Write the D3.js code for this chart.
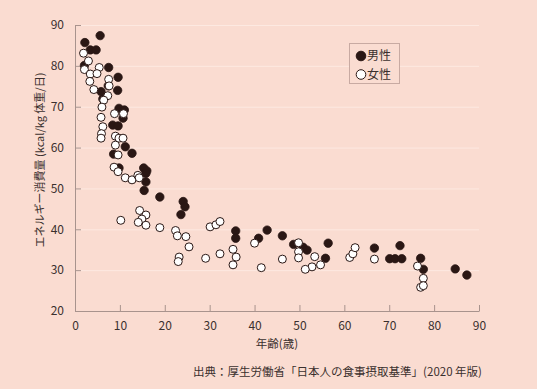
<!DOCTYPE html>
<html><head><meta charset="utf-8">
<script src="https://cdn.jsdelivr.net/npm/d3@7"></script>
<style>
html,body{margin:0;padding:0;background:#fadcd1;}
svg{display:block;}
text{font-family:"Noto Sans CJK JP","Noto Sans",sans-serif;fill:#3a302e;}
</style></head><body>
<svg id="c" width="537" height="389"></svg>
<script>
// [age, kcal/kg/day]
const males = [
[5.6,87.4],[2.2,85.7],[3.4,83.9],[4.7,83.9],[2.1,80.1],[7.5,79.6],[9.6,77.2],[7.4,75.1],
[9.5,74.0],[5.8,73.7],[6.2,71.9],[9.8,69.6],[11.0,69.2],[10.7,67.2],[8.4,65.5],[9.6,65.3],
[11.2,60.2],[8.6,58.4],[12.7,58.6],[15.3,55.0],[16.0,54.3],[15.8,53.7],[15.8,51.6],[15.4,49.5],
[9.8,55.0],[18.9,47.9],[24.1,46.8],[24.5,45.5],[23.6,43.6],[35.8,39.6],[35.8,37.8],[40.9,37.8],
[42.8,39.8],[46.2,38.4],[48.7,36.3],[50.8,35.6],[51.7,34.9],[56.4,36.6],[55.8,32.9],[66.7,35.4],
[72.4,36.0],[70.1,32.8],[71.3,32.8],[72.8,32.8],[77.0,32.9],[77.6,30.2],[84.7,30.3],[87.3,28.8]
];
const females = [
[1.9,83.1],[3.0,81.2],[2.1,79.1],[3.4,78.0],[5.4,79.6],[4.9,78.1],[3.3,76.2],[7.5,76.7],
[4.2,74.2],[7.6,75.1],[7.3,72.7],[6.4,71.6],[6.0,69.9],[5.8,67.4],[6.2,65.1],[5.9,63.4],
[5.8,62.3],[8.8,68.3],[10.8,68.3],[9.0,62.8],[9.8,62.3],[10.7,62.3],[9.0,60.6],[9.6,58.2],
[8.7,55.2],[9.6,54.1],[11.2,52.6],[12.7,52.1],[14.0,53.2],[14.3,52.6],[14.4,44.6],[15.8,43.5],
[14.9,42.5],[14.1,41.7],[15.8,41.0],[10.2,42.2],[18.9,40.4],[22.4,39.7],[22.8,38.4],[24.7,38.2],
[25.4,35.7],[23.2,33.2],[23.0,32.1],[29.1,32.9],[30.1,40.6],[31.4,41.1],[32.3,41.9],[32.3,34.0],
[35.2,35.1],[35.9,33.2],[35.2,31.3],[40.0,36.6],[41.5,30.6],[46.2,32.7],[49.8,36.7],[49.8,34.5],
[49.8,33.0],[53.4,33.3],[54.7,31.3],[52.8,30.8],[51.3,30.2],[61.2,33.1],[61.9,34.0],[62.4,35.5],
[66.7,32.7],[76.3,31.0],[77.6,28.0],[77.0,25.8],[77.6,26.2]
];
const xTicks = [0,10,20,30,40,50,60,70,80,90];
const yTicks = [20,30,40,50,60,70,80,90];
const legendLabels = ["男性","女性"];
const yTitle = "エネルギー消費量 (kcal/kg 体重/日)";
const xTitle = "年齢(歳)";
const source = "出典：厚生労働省「日本人の食事摂取基準」(2020 年版)";

const svg = d3.select("#c");
const L = 75, R = 479, T = 25, B = 311;
const x = d3.scaleLinear().domain([0,90]).range([L,R]);
const y = d3.scaleLinear().domain([20,90]).range([B,T]);
const axisCol = "#a8938d", dark = "#2a1714";

// gridlines
svg.append("g").selectAll("line").data(yTicks.filter(d=>d>20)).join("line")
  .attr("x1",L).attr("x2",R).attr("y1",d=>y(d)+0.5).attr("y2",d=>y(d)+0.5)
  .attr("stroke","#fde9e1").attr("stroke-width",1);

// axes
const gx = svg.append("g").attr("transform",`translate(0,${B})`)
  .call(d3.axisBottom(x).tickValues(xTicks).tickSizeInner(-6).tickSizeOuter(0).tickPadding(10));
const gy = svg.append("g").attr("transform",`translate(${L},0)`)
  .call(d3.axisLeft(y).tickValues(yTicks).tickSizeInner(-6).tickSizeOuter(0).tickPadding(11));
[gx,gy].forEach(g=>{
  g.select(".domain").attr("stroke",axisCol);
  g.selectAll(".tick line").attr("stroke",axisCol);
  g.selectAll(".tick text").attr("font-size",12).attr("fill","#3a302e")
   .attr("font-family",'"Noto Sans CJK JP",sans-serif');
});

// points
svg.append("g").selectAll("circle").data(males).join("circle")
  .attr("cx",d=>x(d[0])).attr("cy",d=>y(d[1])).attr("r",4.2)
  .attr("fill",dark).attr("stroke",dark).attr("stroke-width",0.8);
svg.append("g").selectAll("circle").data(females).join("circle")
  .attr("cx",d=>x(d[0])).attr("cy",d=>y(d[1])).attr("r",4)
  .attr("fill","#ffffff").attr("stroke",dark).attr("stroke-width",1);

// legend
const lg = svg.append("g");
lg.append("rect").attr("x",349.5).attr("y",43.5).attr("width",50).attr("height",40)
  .attr("fill","#fadcd1").attr("stroke","#c8aaa2");
legendLabels.forEach((t,i)=>{
  const cy = 56 + i*18.5;
  lg.append("circle").attr("cx",361).attr("cy",cy).attr("r",4.8)
    .attr("fill",i===0?dark:"#fff").attr("stroke",dark).attr("stroke-width",1);
  lg.append("text").attr("x",367).attr("y",cy).attr("dy","0.36em").attr("font-size",12).text(t);
});

// titles
svg.append("text").attr("transform",`translate(40,160) rotate(-90)`)
  .attr("text-anchor","middle").attr("dy","0.36em").attr("font-size",11).text(yTitle);
svg.append("text").attr("x",277).attr("y",344).attr("text-anchor","middle")
  .attr("dy","0.36em").attr("font-size",11.5).text(xTitle);
svg.append("text").attr("x",482).attr("y",372).attr("text-anchor","end")
  .attr("dy","0.36em").attr("font-size",11.5).text(source);
</script></body></html>
